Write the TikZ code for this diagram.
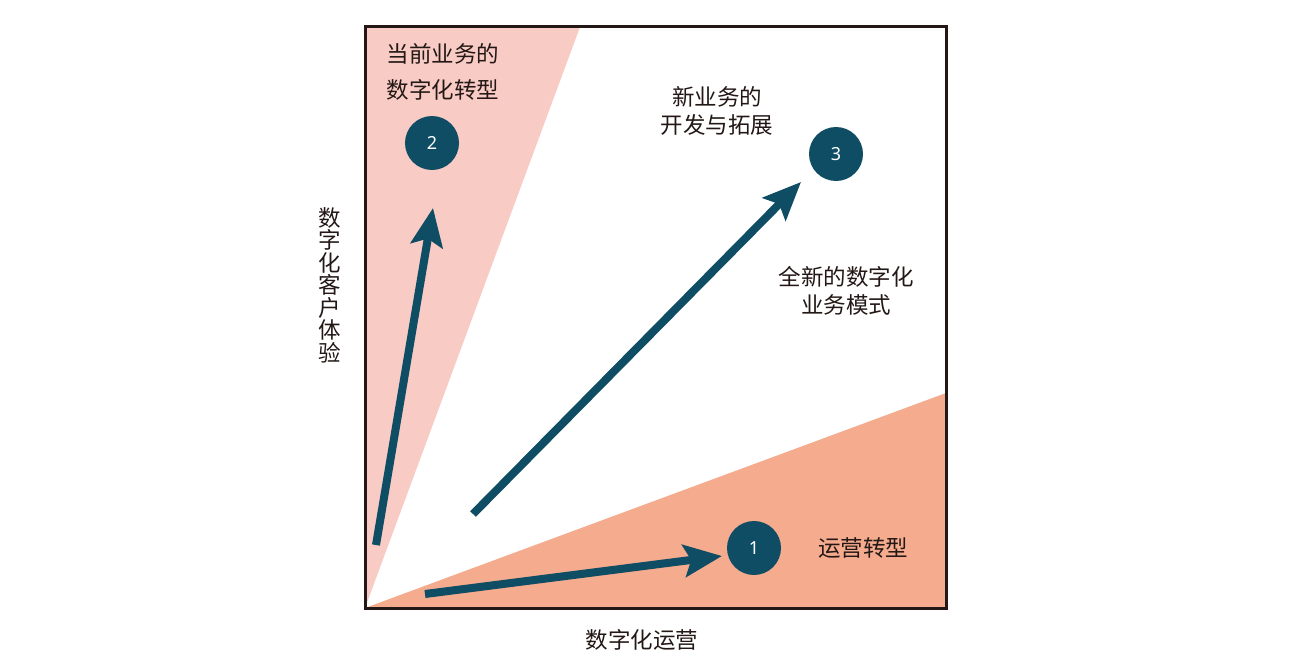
\documentclass[tikz,border=0pt]{standalone}
\usepackage{fontspec}
\setmainfont{Noto Sans CJK SC}
\newfontfamily\numfont{Noto Sans}
\usetikzlibrary{arrows.meta}
\definecolor{teal}{HTML}{0E4D64}
\definecolor{lpink}{HTML}{F9CBC5}
\definecolor{lorange}{HTML}{F5AB8E}
\definecolor{ink}{HTML}{231815}
\tikzset{
  bigarrow/.style={draw=teal, line width=8pt, -{Stealth[length=38pt,width=32pt,inset=7pt]}},
  numcircle/.style={circle, fill=teal, minimum size=54pt, inner sep=0pt, text=white, font=\numfont\fontsize{18}{18}\selectfont},
  label/.style={text=ink, font=\fontsize{22.5}{22.5}\selectfont, align=center},
}
\begin{document}
\begin{tikzpicture}[x=1pt,y=-1pt]
\useasboundingbox (0,0) rectangle (1292,669);
\fill[white] (0,0) rectangle (1292,669);
% wedges
\fill[lpink] (365,608) -- (365,27) -- (580,27) -- cycle;
\fill[lorange] (365,608) -- (946,393) -- (946,608) -- cycle;
% frame
\draw[ink, line width=3pt] (365,27) rectangle (946,608);
% circles
\node[numcircle] (c2) at (432,143) {2};
\node[numcircle] (c3) at (836,154) {3};
\node[numcircle] (c1) at (754,548) {1};
% arrow ends
\coordinate (s2) at (376,545);
\coordinate (t2) at (433,208);
\coordinate (s3) at (473,514);
\coordinate (t3) at (801,182);
\coordinate (s1) at (425,594);
\coordinate (t1) at (722,556);
\draw[bigarrow] (s2) -- (t2);
\draw[bigarrow] (s3) -- (t3);
\draw[bigarrow] (s1) -- (t1);
% labels
\node[label] (l2) at (443,72) {当前业务的\\[14pt]数字化转型};
\node[label] (l3) at (717,111) {新业务的\\[5pt]开发与拓展};
\node[label] (l4) at (846,291) {全新的数字化\\[5pt]业务模式};
\node[label] (l1) at (863,548) {运营转型};
\node[label] (xax) at (642,640) {数字化运营};
\node[label] (yax) at (330,285) {数\\[0pt]字\\[0pt]化\\[0pt]客\\[0pt]户\\[0pt]体\\[0pt]验};
\end{tikzpicture}
\end{document}
